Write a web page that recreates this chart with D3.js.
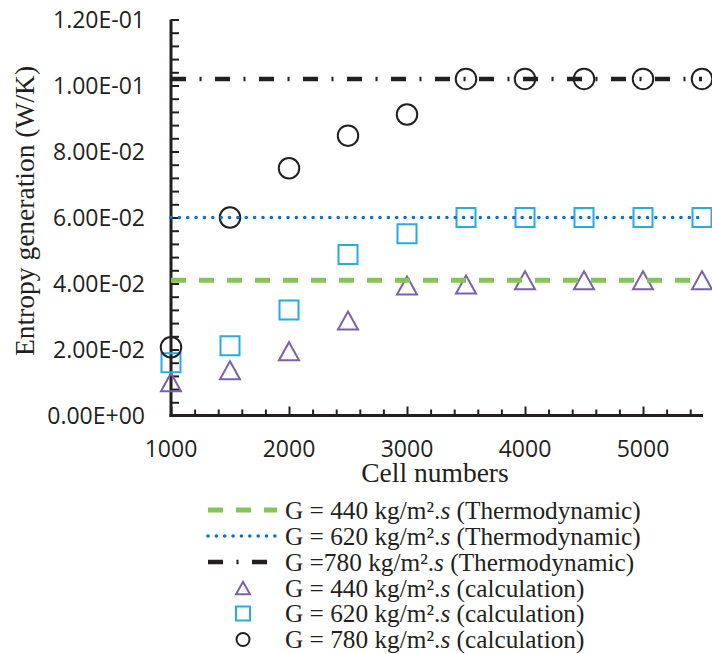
<!DOCTYPE html>
<html>
<head>
<meta charset="utf-8">
<script src="https://cdn.jsdelivr.net/npm/d3@7/dist/d3.min.js"></script>
<style>
  html, body { margin: 0; padding: 0; background: #fff; }
  svg { display: block; }
</style>
</head>
<body>
<svg id="chart" width="712" height="654"></svg>
<script>
// ---------- data ----------
const cells = [1000, 1500, 2000, 2500, 3000, 3500, 4000, 4500, 5000, 5500];
const calc440 = [0.0101, 0.0137, 0.0195, 0.0288, 0.0394, 0.0397, 0.041, 0.041, 0.041, 0.041];
const calc620 = [0.016, 0.0211, 0.032, 0.0488, 0.0551, 0.060, 0.060, 0.060, 0.060, 0.060];
const calc780 = [0.0207, 0.060, 0.0749, 0.0848, 0.0912, 0.102, 0.102, 0.102, 0.102, 0.102];
const thermo440 = 0.041;
const thermo620 = 0.060;
const thermo780 = 0.102;
const xTickValues = [1000, 2000, 3000, 4000, 5000];
const yTickValues = [0, 0.02, 0.04, 0.06, 0.08, 0.10, 0.12];
const yTickLabels = ["0.00E+00", "2.00E-02", "4.00E-02", "6.00E-02", "8.00E-02", "1.00E-01", "1.20E-01"];
// legend labels split as [before ".s", after ".s"]
const legendLabels = [
  ["G = 440 kg/m².", " (Thermodynamic)"],
  ["G = 620 kg/m².", " (Thermodynamic)"],
  ["G =780 kg/m².", " (Thermodynamic)"],
  ["G = 440 kg/m².", " (calculation)"],
  ["G = 620 kg/m².", " (calculation)"],
  ["G = 780 kg/m².", " (calculation)"]
];

// ---------- layout ----------
const ink = "#231f20";
const cPurple = "#7b62a8";
const cCyan = "#29aae1";
const cBlue = "#0b72c2";
const cGreen = "#85c557";

const svg = d3.select("#chart");
const x = d3.scaleLinear().domain([1000, 5500]).range([171, 702]);
const y = d3.scaleLinear().domain([0, 0.12]).range([415.5, 19.5]);

// custom bbox-centered symbols
const triangleType = {
  draw(ctx, size) {
    const s = Math.sqrt(size);
    const w = s, h = s * 0.9;
    ctx.moveTo(0, -h / 2);
    ctx.lineTo(w / 2, h / 2);
    ctx.lineTo(-w / 2, h / 2);
    ctx.closePath();
  }
};
const squareType = {
  draw(ctx, size) {
    const s = Math.sqrt(size);
    ctx.rect(-s / 2, -s / 2, s, s);
  }
};
const circleType = {
  draw(ctx, size) {
    const r = Math.sqrt(size) / 2;
    ctx.moveTo(r, 0);
    ctx.arc(0, 0, r, 0, 2 * Math.PI);
  }
};

// ---------- axes ----------
const yAxis = d3.axisRight(y)
  .tickValues(d3.range(0, 0.1201, 0.004))
  .tickSize(8)
  .tickFormat("");
const gy = svg.append("g").attr("transform", `translate(${x(1000)},0)`).call(yAxis);
gy.select(".domain").remove();
gy.selectAll(".tick line").attr("stroke", ink).attr("stroke-width", 2);

const xAxis = d3.axisTop(x)
  .tickValues(d3.range(1000, 5501, 200))
  .tickSize(6)
  .tickFormat("");
const gx = svg.append("g").attr("transform", `translate(0,${y(0)})`).call(xAxis);
gx.select(".domain").remove();
gx.selectAll(".tick line").attr("stroke", ink).attr("stroke-width", 2)
  .attr("y2", d => (d % 1000 === 0 ? -9 : -6));

// axis lines
svg.append("line").attr("x1", x(1000)).attr("x2", x(1000)).attr("y1", y(0.12)).attr("y2", y(0) + 1.5)
  .attr("stroke", ink).attr("stroke-width", 3);
svg.append("line").attr("x1", x(1000) - 1.5).attr("x2", x(5500) + 1).attr("y1", y(0)).attr("y2", y(0))
  .attr("stroke", ink).attr("stroke-width", 3);

// tick labels
svg.append("g").selectAll("text").data(yTickValues).join("text")
  .attr("x", 145).attr("y", d => y(d) + 8.5)
  .attr("text-anchor", "end")
  .attr("font-family", "'Open Sans', sans-serif").attr("font-size", 23)
  .attr("fill", ink)
  .text((d, i) => yTickLabels[i]);

svg.append("g").selectAll("text").data(xTickValues).join("text")
  .attr("x", d => x(d)).attr("y", 457)
  .attr("text-anchor", "middle")
  .attr("font-family", "'Open Sans', sans-serif").attr("font-size", 23)
  .attr("fill", ink)
  .text(d => d);

// axis titles
svg.append("text")
  .attr("transform", `translate(34,211) rotate(-90)`)
  .attr("text-anchor", "middle")
  .attr("font-family", "'Liberation Serif', serif").attr("font-size", 27.5)
  .attr("fill", ink)
  .text("Entropy generation (W/K)");
svg.append("text")
  .attr("x", 435).attr("y", 482)
  .attr("text-anchor", "middle")
  .attr("font-family", "'Liberation Serif', serif").attr("font-size", 27.5)
  .attr("fill", ink)
  .text("Cell numbers");

// ---------- markers ----------
function drawMarkers(vals, type, size, color) {
  svg.append("g").selectAll("path").data(vals).join("path")
    .attr("transform", (d, i) => `translate(${x(cells[i])},${y(d)})`)
    .attr("d", d3.symbol().type(type).size(size))
    .attr("fill", "none").attr("stroke", color).attr("stroke-width", 2);
}
drawMarkers(calc440, triangleType, 20 * 20, cPurple);
drawMarkers(calc620, squareType, 19 * 19, cCyan);
drawMarkers(calc780, circleType, 20.5 * 20.5, ink);

// ---------- thermodynamic lines ----------
const lineGen = d3.line().x(d => x(d[0])).y(d => y(d[1]));
const styles = [
  { v: thermo440, color: cGreen, w: 5, dash: "15,13", cap: "butt" },
  { v: thermo620, color: cBlue, w: 3.6, dash: "0.01,8.35", cap: "round" },
  { v: thermo780, color: ink, w: 4.5, dash: "15,13.5,2,13.5", cap: "butt" }
];
styles.forEach(s => {
  svg.append("path")
    .attr("d", lineGen([[1000, s.v], [5500, s.v]]))
    .attr("fill", "none").attr("stroke", s.color).attr("stroke-width", s.w)
    .attr("stroke-dasharray", s.dash).attr("stroke-linecap", s.cap);
});

// ---------- legend ----------
const legY = [510, 536, 562, 588, 613.5, 639.5];
const lg = svg.append("g");
styles.forEach((s, i) => {
  lg.append("line").attr("x1", 208).attr("x2", 277).attr("y1", legY[i]).attr("y2", legY[i])
    .attr("stroke", s.color).attr("stroke-width", s.w)
    .attr("stroke-dasharray", s.dash).attr("stroke-linecap", s.cap);
});
const legMarkers = [
  { type: triangleType, size: 14 * 14, color: cPurple },
  { type: squareType, size: 14 * 14, color: cCyan },
  { type: circleType, size: 13 * 13, color: ink }
];
legMarkers.forEach((m, j) => {
  lg.append("path")
    .attr("transform", `translate(243,${legY[3 + j]})`)
    .attr("d", d3.symbol().type(m.type).size(m.size))
    .attr("fill", "none").attr("stroke", m.color).attr("stroke-width", 2);
});
const lt = lg.selectAll("text").data(legendLabels).join("text")
  .attr("x", 285).attr("y", (d, i) => legY[i] + 8.5)
  .attr("font-family", "'Liberation Serif', serif").attr("font-size", 25.3)
  .attr("fill", ink);
lt.append("tspan").text(d => d[0]);
lt.append("tspan").attr("font-style", "italic").text("s");
lt.append("tspan").text(d => d[1]);
</script>
</body>
</html>
